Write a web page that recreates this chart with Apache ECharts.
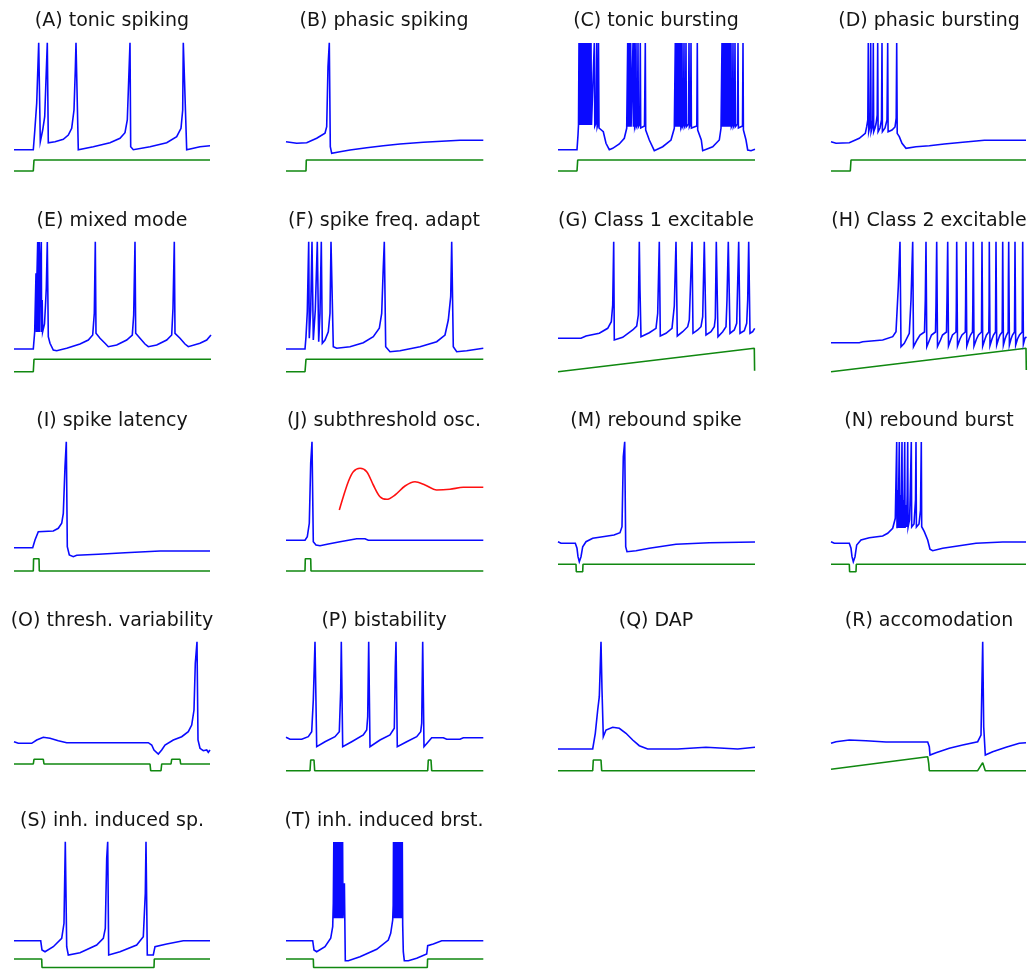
<!DOCTYPE html>
<html><head><meta charset="utf-8">
<script src="https://cdn.jsdelivr.net/npm/echarts@6/dist/echarts.min.js"></script>
<style>html,body{margin:0;padding:0;background:#fff}#c{width:1032px;height:969px}</style>
</head><body><div id="c"></div>
<script>
// Panel titles
const titles = ["(A) tonic spiking","(B) phasic spiking","(C) tonic bursting","(D) phasic bursting",
"(E) mixed mode","(F) spike freq. adapt","(G) Class 1 excitable","(H) Class 2 excitable",
"(I) spike latency","(J) subthreshold osc.","(M) rebound spike","(N) rebound burst",
"(O) thresh. variability","(P) bistability","(Q) DAP","(R) accomodation",
"(S) inh. induced sp.","(T) inh. induced brst."];

// Each trace: [time, level] pairs
const vA = [[0,30.3],[19.3,30.3],[20.7,48.3],[22.7,76.7],[24.7,137.3],[26.3,38.3],[28.7,50],[30.7,63.3],[31.7,91.7],[33.3,137.3],[34.3,37.3],[41,38.3],[49.3,40.7],[54.3,45],[57.7,51.7],[60,70],[61.3,110],[62,137.3],[64.3,30.3],[79.3,33.3],[96,37.3],[106,41.7],[111,47.3],[113.3,60],[114.7,100],[116,137.3],[116.7,33.3],[119.3,30.3],[136,33.3],[152.7,37.3],[162.7,43.3],[167,51.7],[168.7,70],[169.3,137.3],[170.5,100],[172.7,30.3],[186,33.3],[196,34.3]];
const iA = [[0,9],[19.3,9],[20,20],[196,20]];

const vB = [[0,38.3],[10.7,36.7],[20.7,37.3],[30.7,41.7],[39,46.7],[40.7,53.3],[42,113.3],[43.3,137.3],[44.3,33.3],[45.7,26.7],[54,28.3],[64,30],[80.7,32.3],[97.3,34.3],[114,36],[137.3,37.7],[174,39.7],[197.3,39.7]];
const iB = [[0,9],[20,9],[20.3,20],[197.3,20]];

const vC = [[0,30.3],[19,30.3],[20,45],[20.5,55],
[21,137],[21.5,55],[22.2,137],[22.7,55],[23.4,137],[23.9,55],[24.6,137],[25.1,55],[25.8,137],[26.3,55],[27,137],[27.5,55],[28.2,137],[28.7,55],[29.4,137],[29.9,55],[30.6,137],[31.1,55],[31.8,137],[32.3,55],[33,137],[33.5,55],[35.5,57],[36.3,137],[36.8,54],[38,57],[38.7,137],[39.2,53],[40,56],[40.5,137],[41,52],
[43,50],[45.3,48.3],[48,36.7],[51.3,30.3],[54.7,31.7],[61.3,36],[66.3,41.7],[68.7,51.7],[69.2,53.3],
[69.7,137],[70.1,53.3],[70.7,137],[71.1,53.3],[71.7,137],[72.1,53.3],[72.7,137],[73.1,53.3],[74.5,55],[75,137],[75.4,53.3],[76.3,137],[76.7,53.3],[77.3,56],[78,137],[78.4,53.3],[79.5,56],[80,137],[80.4,53.3],[81.8,56],[82.3,137],[82.7,52],[86.5,54],[87.3,137],[87.7,50],
[88.7,48.3],[91.3,40],[96.3,29.3],[104.7,33.3],[113,40],[116.3,51.7],[116.8,53.3],
[117.3,137],[117.7,53.3],[118.3,137],[118.7,53.3],[119.3,137],[119.7,53.3],[120.3,137],[120.7,53.3],[121.3,137],[121.7,53.3],[122.5,137],[122.9,53.3],[123.6,56],[124,137],[124.4,53.3],[125.5,56],[126,137],[126.4,53.3],[127.5,56],[128,137],[128.4,53.3],[130.5,56],[131,137],[131.4,53.3],[132.6,56],[133,137],[133.4,52],[138.8,54],[139.3,137],[139.7,50],
[140.7,48.3],[143.3,40],[144.7,29.3],[154.7,33.3],[161.3,40],[163,51.7],[163.5,53.3],
[164,137],[164.4,53.3],[165,137],[165.4,53.3],[166,137],[166.4,53.3],[167,137],[167.4,53.3],[168,137],[168.4,53.3],[169,137],[169.4,53.3],[170,137],[170.4,53.3],[171.5,137],[171.9,53.3],[173,137],[173.4,53.3],[174.5,56],[175,137],[175.4,53.3],[176.5,56],[177,137],[177.4,53.3],[179.5,56],[180,137],[180.4,52],[184.5,54],[185,137],[185.4,50],
[186.3,50],[188,40],[189.7,30],[193,29.3],[197,30.7]];
const iC = [[0,9],[19,9],[19.7,20],[197,20]];

const vD = [[0,38.3],[5,36.7],[18.3,37.3],[28.3,41.7],[34.3,46.7],[35.7,53.3],[36.8,60],[37.3,137],[37.7,48.3],[38.5,52],[39.2,62],[39.7,137],[40.1,48.3],[41,52],[41.8,60],[42.3,137],[42.7,48.3],[44,52],[45,56],[46.2,65],[46.7,137],[47.1,48.3],[49,52],[50.5,60],[51,137],[51.4,48.3],[54,52],[56,60],[56.7,137],[57.1,48.3],[61,50],[64,53],[65.2,62],[65.7,137],[66.2,46.7],[68.3,43.3],[71,36.7],[75,31.7],[85,33.3],[98.3,34.3],[113.3,36],[131.7,37.7],[153.3,39.7],[195,39.7]];
const iD = [[0,9],[19.3,9],[20,20],[195,20]];

const vE = [[0,31],[19.3,31],[20.7,48.3],[22,106.7],[22.4,48],[23,107],[23.7,138],[24,48],[24.6,107],[25.3,138],[25.6,48],[26.3,107],[27.3,138],[27.6,48],[28.2,80],[28.6,48],[29.5,50],[30.5,56],[31.5,75],[32.3,92],[33.3,138],[34.3,43.3],[36,36.7],[39.3,30],[42.7,29.3],[52.7,31.7],[66,36],[74.3,40],[78.7,45],[80.3,66.7],[81.3,138.3],[82,46.7],[86,41.7],[91,36.7],[94.3,33.3],[102.7,35],[112.7,40],[118.3,45],[119.7,65],[121,138.3],[121.7,46.7],[126,41.7],[131,36],[134.3,33.3],[142.7,35],[152.7,40],[157.7,45],[159,71.7],[160.3,138.3],[161,46.7],[166,41.7],[171,36],[174.3,33.3],[186,36.7],[192.7,40],[197,45]];
const iE = [[0,8.3],[19.3,8.3],[20,20.7],[197,20.7]];

const vF = [[0,31],[19,31],[20,43.3],[21.3,68.3],[22.7,138.3],[23.3,41.7],[24.7,70],[26,138.3],[27.3,40],[29.3,70],[31.3,138.3],[32.7,38.3],[34,66.7],[35.3,138.3],[36.3,36.7],[39,40],[42.3,48.3],[44,66.7],[45,138.3],[47.3,33.3],[50.7,31.7],[64,33.3],[77.3,37.3],[87.3,43.3],[93.3,51.7],[95.7,66.7],[97.3,113.3],[98.3,138.3],[99.7,33.3],[104,28.3],[114,29.3],[134,33.3],[150.7,38.3],[159,45],[162.3,60],[164.7,83.3],[165.7,138.3],[167.3,33.3],[170.7,28.3],[180.7,29.3],[197.3,31.7]];
const iF = [[0,8.3],[19,8.3],[20,20.7],[197.3,20.7]];

const vG = [[0,41.7],[23,41.7],[28,44],[41.3,46.7],[49.7,51.7],[53.3,58.3],[54.7,75],[55.7,138.3],[56.3,40],[64.7,42.7],[74.7,50],[78.7,54],[80.3,65],[81.3,138.3],[82,90],[83,43.3],[91.3,47.3],[98,51.7],[99.7,66.7],[101.3,138.3],[102.3,44],[108,46.7],[114,51.7],[116.3,74],[118,138.3],[119.3,44],[124.7,48.3],[129.7,53.3],[131.3,60],[134,138.3],[135,46.7],[139.7,50],[143,53.3],[144.7,63.3],[146.3,138.3],[148,45],[153,48.3],[156.3,53.3],[157.3,61.7],[158.3,138.3],[160,43.3],[164.7,48.3],[168,53.3],[169,80],[170.3,138.3],[172,46.7],[176.3,50],[178.7,56.7],[180.7,138.3],[182,46.7],[186.3,49.3],[188.7,56.7],[189.7,80],[190.7,138.3],[192,46.7],[194.7,48.3],[196.7,51.7]];
const iG = [[0,8.3],[196.3,31.7],[196.6,9.3]];

const vH = [[0,37.3],[28.3,37.3],[31.7,38.3],[51.7,40],[61.7,43.3],[65,48.3],[67.3,93.3],[69,138.3],[70,33.3],[73.3,36.7],[78.3,46.7],[80,80],[81.7,138.3],[82.5,33.3],
[86,40],[89,45],[91,43],[93.5,48],[94.3,80],[95,138.3],[95.8,33.3],
[98.5,40],[100.5,45],[102,43],[104.5,48],[105,75],[105.7,138.3],[106.5,33.5],
[109.5,40],[111.5,45],[113,43],[115.5,48],[116,80],[116.7,138.3],[117.5,34],
[120,41],[121.5,45],[122.5,43],[125,48],[125.3,70],[125.7,138.3],[126.5,34],
[129,41],[131,45],[132,43],[134.3,48],[134.6,75],[135,138.3],[135.8,34],
[138,41],[139.5,45],[141.5,48],[141.8,70],[142.3,138.3],[143,34],
[145.5,41],[147.5,45],[148.5,43],[150.5,48],[150.7,85],[151,138.3],[151.7,34],
[154,41],[155.5,45],[157.8,48],[158.1,75],[158.3,138.3],[159,34.5],
[161,41],[162.5,45],[164.5,48],[164.7,85],[165,138.3],[165.7,35],
[167.5,41],[169,45],[171.2,48],[171.4,80],[171.7,138.3],[172.4,35],
[174,41],[175.5,45],[177.2,48],[177.4,100],[177.7,138.3],[178.4,35],
[180,41],[181.5,45],[183.5,48],[183.7,80],[184,138.3],[184.7,35],
[186.5,41],[188.5,45],[191.2,48],[191.4,85],[191.7,138.3],[192.4,36],
[194,42],[195.5,43]];
const iH = [[0,8.3],[195,31.7],[195.3,10]];

const vI = [[0,32.3],[18.7,32.3],[21,40],[24.3,48.3],[39.3,49],[44.3,51.7],[47.7,56.7],[49.3,66.7],[51,113.3],[52.3,138.3],[53.3,33.3],[55.3,25],[59.3,23.3],[62.7,24.7],[84.3,25.7],[111,27.3],[146,29],[196,29]];
const iI = [[0,9],[19.3,9],[19.6,21.3],[25,21.3],[25.3,9],[196,9]];

const vJ = [[0,39.7],[19,39.7],[21.3,43.3],[23.3,56.7],[24.7,116.7],[26,138.3],[27.3,38.3],[30,35],[34,34.3],[42.3,36],[54,38.3],[70.7,41.3],[79,41.3],[82.3,39.7],[197.3,39.7]];
const uJ = [[53.3,70],[57.3,83.3],[62.3,98.3],[67.3,108.3],[74,111.7],[80.7,108.3],[87.3,95],[94,83.3],[100.7,80.7],[109,85],[119,94],[129,98.3],[139,95],[150.7,90],[164,90.7],[177.3,92.7],[197.3,92.7]];
const iJ = [[0,9],[19,9],[19.3,21.3],[24.7,21.3],[25,9],[197.3,9]];

const vM = [[0,38.3],[3,36.7],[17.3,36.7],[19,31.7],[20,23.3],[21.3,18.3],[23,23.3],[24.7,33.3],[28,38.3],[34.7,41.7],[44.7,43.3],[56,45],[62,47.3],[64,53.3],[65.3,123.3],[66.7,138.3],[67.7,33.3],[69,28.3],[78,29.3],[91.3,31.7],[118,35.7],[151.3,37.3],[197,38]];
const iM = [[0,15.7],[18,15.7],[18.3,8.3],[24.7,8.3],[25,15.7],[197,15.7]];

const vN = [[0,38.3],[3.3,36.7],[18.3,36.7],[20,31.7],[21,23.3],[22.3,18.3],[24,23.3],[25.7,35],[30,40],[38.3,42.3],[51.7,44],[56.7,46.7],[61.7,51.7],[64.3,61.7],[65.7,138],[66,51.7],[66.8,90],[67.3,52],[67.8,100],[68.3,138],[68.7,52],[69.5,85],[70,52],[70.5,95],[71,138],[71.4,52],[72,80],[72.5,52],[73.2,90],[73.7,138],[74.1,52],[75,75],[75.5,53],[76.2,85],[76.7,138],[77.1,53],[78.5,60],[79,75],[80.3,138],[80.7,53],[83,56],[84.5,80],[85,138],[85.4,53],[88,56],[89.5,70],[90.3,138],[90.7,53.3],[91,53.3],[93.3,48.3],[96.7,40],[99,30.7],[101.7,29.3],[111.7,31.7],[128.3,34.3],[145,36.7],[171.7,38],[195,38]];
const iN = [[0,15.7],[18.3,15.7],[18.6,8.3],[25,8.3],[25.3,15.7],[195,15.7]];

const vO = [[0,38.3],[4.3,36.7],[17.7,36.7],[22.7,40],[29.3,42.7],[36,41.7],[44.3,39.3],[52.7,37.3],[134.3,37.3],[137.7,35],[140,30],[144.3,26],[147.7,30],[151,35],[159.3,40],[167.7,43.3],[174.3,48.3],[177.7,55],[180,70],[181.3,116.7],[183,138.3],[184,40],[186,31.7],[189.3,29.3],[192.7,30],[194.3,27.7],[196,30]];
const iO = [[0,16],[19.3,16],[20,20.7],[29.3,20.7],[30,16],[136,16],[136.7,9.3],[147,9.3],[147.7,16],[157,16],[157.7,20.7],[166,20.7],[166.7,16],[196,16]];

const vP = [[0,42.7],[4,40.7],[15.7,40.7],[22.3,43.3],[25.7,48.3],[27.3,80],[29,138.3],[30.7,33.3],[39,38.3],[49,43.3],[53.3,48.3],[54.7,90],[55.3,138.3],[56.7,33.3],[65.7,38.3],[77.3,45],[80.7,50],[81.7,63.3],[82.7,138.3],[84,33.3],[94,40],[104,45],[108.3,51.7],[109.3,113.3],[110,138.3],[111.3,33.3],[120.7,38.3],[130.7,43.3],[134.7,48.3],[135.7,56.7],[136.7,138.3],[138,33.3],[142.3,38.3],[145.7,42.3],[157.3,42.3],[160.7,40.7],[174,40.7],[177.3,42.3],[197.3,42.3]];
const iP = [[0,9.3],[24,9.3],[24.7,20],[28,20],[28.7,9.3],[141.7,9.3],[142.3,20],[145,20],[145.7,9.3],[197.3,9.3]];

const vQ = [[0,31],[34.7,31],[37.3,46.7],[39.7,70],[41.3,83.3],[43,138.3],[44,90],[45.3,43.3],[48,50],[54.7,52.7],[61.3,51.7],[68,46.7],[74.7,40],[81.3,34.3],[89.7,31],[119.7,31],[121.3,32.7],[148,32.7],[149.7,31],[179.7,31],[181.3,32.7],[197,32.7]];
const iQ = [[0,9.3],[34.7,9.3],[35.3,20],[43,20],[43.7,9.3],[197,9.3]];

const vR = [[0,36.7],[5,38.3],[18.3,40],[35,39.3],[55,38],[96.7,38],[98.3,33.3],[99,25],[105,27.3],[118.3,31.7],[131.7,35],[146.7,38.3],[150,45],[151.7,138.3],[152.7,53.3],[154.3,25],[161.7,28.3],[175,32.7],[188.3,36.7],[195,37.3]];
const iR = [[0,10.7],[96.7,23.3],[97.7,16.7],[98.3,9.3],[146.7,9.3],[151.7,17.3],[154.3,9.3],[195,9.3]];

const vS = [[0,39.3],[26.7,39.3],[28,30],[31,28.3],[39.3,33.3],[47.7,41.7],[50,56.7],[51.3,138.3],[52.7,33.3],[54.3,25],[66,27.3],[82.7,35],[89.3,41.7],[91.3,51.7],[92.7,121.7],[93.7,138.3],[94.7,25],[106,28.3],[122.7,35],[129.3,43.3],[131.3,86.7],[132,138.3],[133.3,25],[139.3,25],[141,33.3],[152.7,36],[169.3,39.3],[196,39.3]];
const iS = [[0,21],[27.7,21],[28,12.5],[140,12.5],[140.3,21],[196,21]];

const vT = [[0,39.3],[26.7,39.3],[28,30],[30.7,28.3],[39,33.3],[44.7,41.7],[46.7,53.3],[47.3,76.7],
[47.8,138],[48.2,61.7],[48.6,138],[49,61.7],[49.4,138],[49.8,61.7],[50.2,138],[50.6,61.7],[51,138],[51.4,61.7],[51.8,138],[52.2,61.7],[52.6,138],[53,61.7],[53.4,138],[53.8,61.7],[54.2,138],[54.6,61.7],[55,138],[55.4,61.7],[55.8,138],[56.2,61.7],[56.6,138],[57,61.7],[58.4,96.7],[58.8,61.7],
[59.3,19.3],[62.3,19.3],[74,23.3],[90.7,30.7],[102.3,40],[104.7,46.7],[106.7,60],[107.2,75],
[107.5,138],[107.9,61.7],[108.3,138],[108.7,61.7],[109.1,138],[109.5,61.7],[109.9,138],[110.3,61.7],[110.7,138],[111.1,61.7],[111.5,138],[111.9,61.7],[112.3,138],[112.7,61.7],[113.1,138],[113.5,61.7],[113.9,138],[114.3,61.7],[114.7,138],[115.1,61.7],[115.5,138],[115.9,61.7],[116.3,138],[116.7,55],
[117.3,28.3],[118.3,19.3],[122.3,19.3],[130.7,21.7],[140.7,26],[141.7,34.3],[147.3,36],[155.7,39.3],[197.3,39.3]];
const iT = [[0,21],[27.3,21],[27.6,12.5],[141.3,12.5],[141.6,21],[197.3,21]];

const voltages = [vA,vB,vC,vD,vE,vF,vG,vH,vI,vJ,vM,vN,vO,vP,vQ,vR,vS,vT];
const currents = [iA,iB,iC,iD,iE,iF,iG,iH,iI,iJ,iM,iN,iO,iP,iQ,iR,iS,iT];

// layout
const colLeft = [14, 286, 558, 831];
const rowTop = [0, 200, 400, 600, 800];
const rowMin = [0, 0, 0, 0, 11];   // last row is cut by the page bottom
const BLUE = '#0a0aff', GREEN = '#108810', RED = '#ff1010';

const grid = [], xAxis = [], yAxis = [], series = [], title = [];
titles.forEach((t, k) => {
  const r = Math.floor(k / 4), c = k % 4;
  grid.push({left: colLeft[c], top: rowTop[r] + 40, width: 200, height: 140 - rowMin[r], containLabel: false});
  xAxis.push({type: 'value', gridIndex: k, min: 0, max: 200, show: false});
  yAxis.push({type: 'value', gridIndex: k, min: rowMin[r], max: 140, show: false});
  title.push({text: t, left: colLeft[c] + 98, top: rowTop[r] + 9, textAlign: 'center', padding: 0,
    textStyle: {fontFamily: 'DejaVu Sans', fontSize: 19, fontWeight: 'normal', color: '#141414', lineHeight: 24}});
  const base = {type: 'line', xAxisIndex: k, yAxisIndex: k, showSymbol: false, symbol: 'none', silent: true, animation: false, clip: false};
  series.push(Object.assign({}, base, {data: currents[k], lineStyle: {color: GREEN, width: 1.6}}));
  series.push(Object.assign({}, base, {data: voltages[k], lineStyle: {color: BLUE, width: 1.6, join: 'miter'}}));
  if (k === 9) series.push(Object.assign({}, base, {data: uJ, smooth: 0.3, lineStyle: {color: RED, width: 1.6}}));
});

const chart = echarts.init(document.getElementById('c'), null, {renderer: 'canvas'});
chart.setOption({backgroundColor: '#fff', animation: false, title, grid, xAxis, yAxis, series});
</script></body></html>
